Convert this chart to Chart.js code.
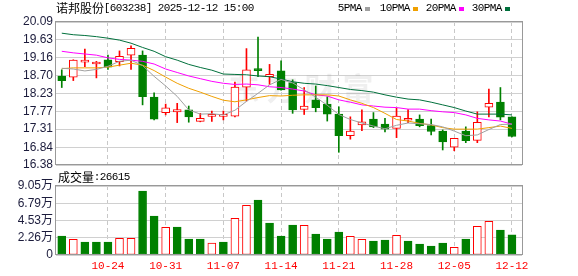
<!DOCTYPE html>
<html lang="zh-CN">
<head>
<meta charset="UTF-8">
<title>诺邦股份 日K</title>
<script src="https://cdn.jsdelivr.net/npm/chart.js@4.4.1/dist/chart.umd.min.js"></script>
<style>
  html, body { margin: 0; padding: 0; background: #fff; }
  #wrap { position: relative; width: 578px; height: 276px; }
  #wrap canvas { position: absolute; left: 0; top: 0; }
</style>
</head>
<body>
<div id="wrap">
  <canvas id="kChart" width="578" height="276"></canvas>
  <canvas id="volChart" width="578" height="276"></canvas>
</div>
<script>
// ---- data ----
const dates = ['10-20','10-21','10-22','10-23','10-24','10-27','10-28','10-29','10-30','10-31',
               '11-03','11-04','11-05','11-06','11-07','11-10','11-11','11-12','11-13','11-14',
               '11-17','11-18','11-19','11-20','11-21','11-24','11-25','11-26','11-27','11-28',
               '12-01','12-02','12-03','12-04','12-05','12-08','12-09','12-10','12-11','12-12'];
const opens  = [18.69,18.66,19.05,19.00,19.11,19.06,19.23,19.23,18.14,17.74,
                17.76,17.81,17.51,17.64,17.64,17.65,18.40,18.86,18.67,18.82,
                18.52,17.82,18.07,17.96,17.70,17.14,17.42,17.57,17.44,17.33,
                17.54,17.57,17.40,17.26,16.84,17.26,17.02,17.88,18.01,17.63];
const closes = [18.57,19.10,19.08,19.05,18.92,19.20,19.41,18.15,17.57,17.86,
                17.82,17.63,17.59,17.68,17.66,18.40,18.85,18.83,18.73,18.33,
                17.81,17.91,17.87,17.70,17.14,17.26,17.50,17.37,17.31,17.65,
                17.57,17.40,17.25,16.98,17.07,17.01,17.49,17.98,17.62,17.12];
const highs  = [18.85,19.11,19.39,19.07,19.23,19.34,19.47,19.34,18.25,17.96,
                17.98,17.91,17.72,17.78,17.78,18.53,19.40,19.70,18.99,19.08,
                18.59,18.39,18.43,18.15,17.89,17.63,17.81,17.74,17.59,17.85,
                17.82,17.68,17.57,17.29,17.07,17.37,17.76,18.35,18.39,17.63];
const lows   = [18.39,18.57,18.93,18.64,18.86,18.95,18.86,17.94,17.55,17.68,
                17.48,17.49,17.50,17.51,17.55,17.63,18.04,18.67,18.47,18.32,
                17.72,17.69,17.76,17.52,16.71,17.05,17.27,17.35,17.24,17.09,
                17.48,17.37,17.16,16.77,16.75,16.96,16.96,17.63,17.55,17.11];
const ma5  = [18.89,18.87,18.82,18.86,18.94,19.07,19.10,18.96,18.68,18.43,
              18.16,17.81,17.70,17.71,17.68,17.80,18.03,18.24,18.46,18.60,
              18.51,18.33,18.14,17.93,17.69,17.56,17.47,17.39,17.32,17.41,
              17.47,17.45,17.43,17.37,17.26,17.14,17.16,17.30,17.43,17.44];
const ma10 = [18.88,18.90,18.90,18.90,18.92,18.97,19.02,18.97,18.83,18.66,
              18.50,18.37,18.27,18.16,18.06,18.02,18.07,18.13,18.18,18.17,
              18.19,18.20,18.20,18.20,18.17,18.07,17.98,17.87,17.72,17.56,
              17.52,17.46,17.42,17.35,17.31,17.31,17.31,17.35,17.39,17.33];
const ma20 = [19.33,19.29,19.26,19.23,19.16,19.12,19.10,19.07,19.00,18.87,
              18.78,18.69,18.62,18.55,18.50,18.47,18.48,18.46,18.41,18.39,
              18.35,18.30,18.20,18.17,18.07,18.01,17.94,17.91,17.88,17.87,
              17.83,17.83,17.79,17.76,17.74,17.68,17.59,17.55,17.52,17.44];
const ma30 = [19.80,19.76,19.74,19.71,19.67,19.62,19.54,19.43,19.33,19.19,
              19.10,18.99,18.91,18.84,18.74,18.73,18.72,18.69,18.67,18.61,
              18.54,18.50,18.48,18.44,18.39,18.34,18.31,18.27,18.20,18.14,
              18.09,18.07,18.01,17.94,17.87,17.78,17.70,17.70,17.70,17.68];
const volumes = [24900,20600,17000,17000,17000,21900,21900,84000,51200,36300,
                 36700,21000,21000,15700,17000,48100,65200,72100,42000,24900,
                 39300,38900,27500,21000,30200,24500,20600,18400,19700,25800,
                 18400,14400,11800,15700,10100,21000,37600,44200,32800,26615];
const priceTicks = ['16.38','16.84','17.31','17.77','18.23','18.70','19.16','19.63','20.09'];
const volTicks = ['0','2.26万','4.53万','6.79万','9.05万'];
const volMax = 90500;
const weekIdx = [4, 9, 14, 19, 24, 29, 34, 39];   // dashed date lines
const stockTitle = '诺邦股份[603238] 2025-12-12 15:00';
const maNames = ['5PMA', '10PMA', '20PMA', '30PMA'];

// ---- styles ----
const RED = '#ff0000', GREEN = '#008000';
const maColors = ['#a0a0a0', '#f0a000', '#ff00ff', '#00703c'];
const AXIS_FONT = "'Liberation Sans', 'Noto Sans CJK SC', sans-serif";
const CJK = "'Noto Sans CJK SC'";
const MONO = "'Liberation Mono'";
const LABEL_COLOR = '#1c1c3c';

const isUp = closes.map((c, i) => c > opens[i]);
const volUp = closes.map((c, i) => i === 0 ? c > opens[0] : c > closes[i - 1]);
const pts = arr => arr.map((v, i) => ({ x: i, y: v }));

// song-style text: full width chars 12px, half width 6px
function cellText(ctx, str, x, y, color) {
  ctx.save();
  ctx.fillStyle = color || '#000';
  ctx.textAlign = 'center';
  ctx.textBaseline = 'middle';
  for (const ch of str) {
    const wide = ch.charCodeAt(0) > 255;
    const w = wide ? 12 : 6;
    ctx.font = wide ? '12px ' + CJK : '11px ' + MONO;
    ctx.fillText(ch, x + w / 2, y);
    x += w;
  }
  ctx.restore();
  return x;
}

function frame(chart) {
  const a = chart.chartArea, ctx = chart.ctx;
  ctx.save();
  ctx.strokeStyle = '#999';
  ctx.lineWidth = 1;
  ctx.strokeRect(a.left - 0.5, a.top - 0.5, a.right - a.left + 1, a.bottom - a.top);
  ctx.restore();
}

const kDecor = {
  id: 'kDecor',
  beforeDatasetsDraw(chart) {
    // faint watermark
    const ctx = chart.ctx;
    ctx.save();
    ctx.fillStyle = 'rgba(150,150,150,0.15)';
    ctx.font = 'bold 31px ' + CJK;
    ctx.textBaseline = 'middle';
    ctx.textAlign = 'center';
    '东方财富'.split('').forEach((ch, i) => ctx.fillText(ch, 244 + i * 38, 88));
    ctx.restore();
  },
  afterDraw(chart) {
    const ctx = chart.ctx;
    frame(chart);
    cellText(ctx, stockTitle, 56, 8);
    const starts = [338, 380, 426, 472];
    maNames.forEach((name, i) => {
      const end = cellText(ctx, name, starts[i], 8);
      ctx.fillStyle = maColors[i];
      ctx.fillRect(end + 3, 7, 5, 4);
    });
  }
};

const volDecor = {
  id: 'volDecor',
  afterDraw(chart) {
    frame(chart);
    cellText(chart.ctx, '成交量:' + volumes[volumes.length - 1], 58, 177);
  }
};

const xBase = {
  type: 'linear', min: -0.5, max: 39.87, offset: false,
  afterBuildTicks: s => { s.ticks = weekIdx.map(v => ({ value: v })); },
  grid: { color: '#c8c8c8', lineWidth: 1, drawTicks: false, offset: false },
  border: { display: false, dash: [4, 3] }
};

new Chart(document.getElementById('kChart'), {
  type: 'bar',
  data: {
    datasets: [
      ...maNames.map((name, k) => ({
        type: 'line', label: name, data: pts([ma5, ma10, ma20, ma30][k]),
        borderColor: maColors[k], borderWidth: 1, pointRadius: 0, tension: 0, order: 0
      })),
      {
        label: 'body',
        data: opens.map((o, i) => ({ x: i, y: [o, closes[i]] })),
        backgroundColor: isUp.map(u => u ? '#ffffff' : GREEN),
        borderColor: isUp.map(u => u ? RED : GREEN),
        borderWidth: 1, borderSkipped: false, barThickness: 8, minBarLength: 2,
        grouped: false, order: 1
      },
      {
        label: 'wick',
        data: lows.map((l, i) => ({ x: i, y: [l, highs[i]] })),
        backgroundColor: isUp.map(u => u ? RED : GREEN),
        barThickness: 1, grouped: false, order: 2
      }
    ]
  },
  options: {
    responsive: false, animation: false,
    layout: { padding: { top: 22, right: 56, bottom: 111, left: 0 } },
    plugins: { legend: { display: false }, tooltip: { enabled: false } },
    scales: {
      x: Object.assign({}, xBase, {
        ticks: { display: false },
        afterFit: s => { s.height = 0; }
      }),
      y: {
        min: parseFloat(priceTicks[0]), max: parseFloat(priceTicks[priceTicks.length - 1]),
        beginAtZero: false,
        afterBuildTicks: s => { s.ticks = priceTicks.map(t => ({ value: parseFloat(t) })); },
        afterFit: s => { s.width = 56; },
        ticks: { callback: (v, i) => priceTicks[i], color: LABEL_COLOR, padding: 3, autoSkip: false,
                 font: { family: AXIS_FONT, size: 12 } },
        grid: { color: '#d0d0d0', drawTicks: false },
        border: { display: false }
      }
    }
  },
  plugins: [kDecor]
});

new Chart(document.getElementById('volChart'), {
  type: 'bar',
  data: {
    datasets: [{
      label: '成交量',
      data: pts(volumes),
      backgroundColor: volUp.map(u => u ? '#ffffff' : GREEN),
      borderColor: volUp.map(u => u ? RED : GREEN),
      borderWidth: 1, borderSkipped: false, barThickness: 8, grouped: false
    }]
  },
  options: {
    responsive: false, animation: false,
    layout: { padding: { top: 186, right: 56, bottom: 0, left: 0 } },
    plugins: { legend: { display: false }, tooltip: { enabled: false } },
    scales: {
      x: Object.assign({}, xBase, {
        ticks: { callback: v => dates[v], color: RED, padding: 4, maxRotation: 0,
                 autoSkip: false, font: { family: MONO, size: 11 } },
        afterFit: s => { s.height = 21; }
      }),
      y: {
        min: 0, max: volMax, beginAtZero: true,
        afterBuildTicks: s => { s.ticks = volTicks.map((t, i) => ({ value: i * volMax / 4 })); },
        afterFit: s => { s.width = 56; },
        ticks: { callback: (v, i) => volTicks[i], color: LABEL_COLOR, padding: 3, autoSkip: false,
                 font: { family: AXIS_FONT, size: 12 } },
        grid: { color: '#d0d0d0', drawTicks: false },
        border: { display: false }
      }
    }
  },
  plugins: [volDecor]
});
</script>
</body>
</html>
